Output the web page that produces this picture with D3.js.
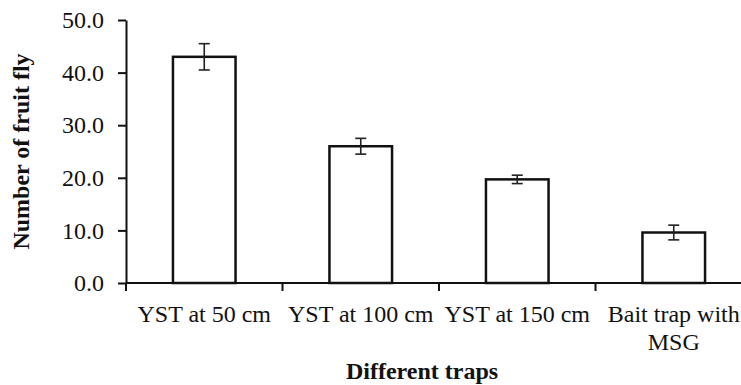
<!DOCTYPE html>
<html>
<head>
<meta charset="utf-8">
<script src="https://cdn.jsdelivr.net/npm/d3@7"></script>
<style>
  body { margin: 0; background: #fff; }
  text { font-family: "Liberation Serif", "Times New Roman", serif; fill: #111; }
</style>
</head>
<body>
<div class="chart"></div>
<script>
const svgWidth = 741
const svgHeight = 385

// data
const traps = ["YST at 50 cm", "YST at 100 cm", "YST at 150 cm", "Bait trap with MSG"]
const trapLines = [["YST at 50 cm"], ["YST at 100 cm"], ["YST at 150 cm"], ["Bait trap with", "MSG"]]
const flies = [43.0, 26.0, 19.7, 9.6]
const errors = [2.5, 1.5, 0.8, 1.4]
const yTicks = [0, 10, 20, 30, 40, 50]

let margin = { top: 20, right: -11, bottom: 102, left: 126 }
let width = svgWidth - margin.left - margin.right
let height = svgHeight - margin.top - margin.bottom

let data = traps.map((t, i) => ({ trap: t, lines: trapLines[i], value: flies[i], err: errors[i] }))

let svg = d3.select(".chart")
  .append("svg")
  .attr("width", svgWidth)
  .attr("height", svgHeight)

let chartGroup = svg.append("g")
  .attr("transform", `translate(${margin.left}, ${margin.top})`)

let x = d3.scaleBand().domain(traps).range([0, width]).padding(0)
let y = d3.scaleLinear().domain([0, 50]).range([height, 0])

// bars
let barW = x.bandwidth() * 0.4
chartGroup.selectAll("rect.bar")
  .data(data)
  .enter()
  .append("rect")
  .attr("class", "bar")
  .attr("x", d => x(d.trap) + (x.bandwidth() - barW) / 2)
  .attr("y", d => y(d.value))
  .attr("width", barW)
  .attr("height", d => y(0) - y(d.value))
  .attr("fill", "#fff")
  .attr("stroke", "#111")
  .attr("stroke-width", 2.5)

// error bars
let errG = chartGroup.selectAll("g.err")
  .data(data)
  .enter()
  .append("g")
  .attr("class", "err")
  .attr("transform", d => `translate(${x(d.trap) + x.bandwidth() / 2}, 0)`)
  .attr("stroke", "#222")
  .attr("stroke-width", 1.6)

errG.append("line")
  .attr("x1", 0).attr("x2", 0)
  .attr("y1", d => y(d.value + d.err))
  .attr("y2", d => y(d.value - d.err))
errG.append("line")
  .attr("x1", -5.5).attr("x2", 5.5)
  .attr("y1", d => y(d.value + d.err))
  .attr("y2", d => y(d.value + d.err))
errG.append("line")
  .attr("x1", -5.5).attr("x2", 5.5)
  .attr("y1", d => y(d.value - d.err))
  .attr("y2", d => y(d.value - d.err))

// y axis
let leftAxis = d3.axisLeft(y)
  .tickValues(yTicks)
  .tickFormat(d3.format(".1f"))
  .tickSizeInner(8)
  .tickSizeOuter(0)
  .tickPadding(14)

let yAxis = chartGroup.append("g").call(leftAxis)
yAxis.selectAll("path, line").attr("stroke", "#111").attr("stroke-width", 2)
yAxis.selectAll("text").attr("font-size", "24px").attr("fill", "#111")
  .style("font-family", "'Liberation Serif', serif")

// x axis: line plus ticks at category boundaries
let xAxis = chartGroup.append("g").attr("transform", `translate(0, ${height})`)
xAxis.append("line")
  .attr("x1", 0).attr("x2", width)
  .attr("y1", 0).attr("y2", 0)
  .attr("stroke", "#111").attr("stroke-width", 2)

let edges = traps.map(t => x(t)).concat([width])
xAxis.selectAll("line.tick")
  .data(edges)
  .enter()
  .append("line")
  .attr("class", "tick")
  .attr("x1", d => d).attr("x2", d => d)
  .attr("y1", 0).attr("y2", 8)
  .attr("stroke", "#111").attr("stroke-width", 2)

let xLabels = xAxis.selectAll("text.cat")
  .data(data)
  .enter()
  .append("text")
  .attr("class", "cat")
  .attr("text-anchor", "middle")
  .attr("font-size", "24px")
  .attr("y", 38.5)

xLabels.selectAll("tspan")
  .data(d => d.lines.map(l => ({ l, cx: x(d.trap) + x.bandwidth() / 2 })))
  .enter()
  .append("tspan")
  .attr("x", d => d.cx)
  .attr("dy", (d, i) => i === 0 ? 0 : 28.5)
  .text(d => d.l)

// axis titles
svg.append("text")
  .attr("x", 422)
  .attr("y", 379)
  .attr("text-anchor", "middle")
  .attr("font-size", "24px")
  .attr("font-weight", "bold")
  .text("Different traps")

svg.append("text")
  .attr("transform", `translate(28.5, ${margin.top + height / 2}) rotate(-90)`)
  .attr("text-anchor", "middle")
  .attr("font-size", "24px")
  .attr("font-weight", "bold")
  .text("Number of fruit fly")
</script>
</body>
</html>
